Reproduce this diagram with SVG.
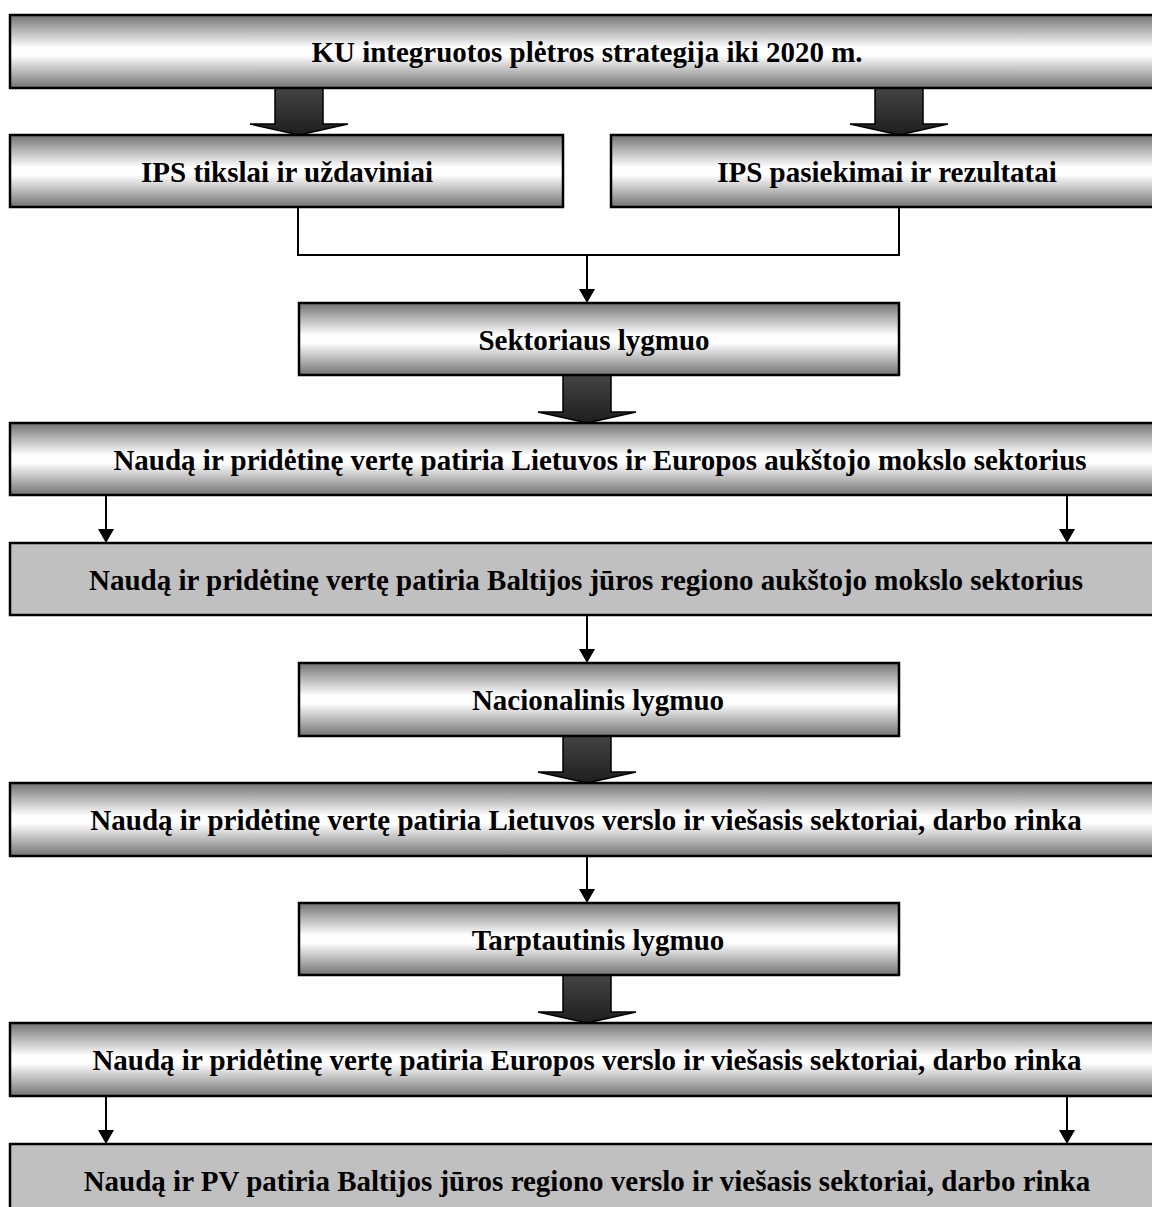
<svg xmlns="http://www.w3.org/2000/svg" width="1152" height="1207" viewBox="0 0 1152 1207">
  <defs>
    <linearGradient id="chrome" x1="0" y1="0" x2="0" y2="1">
      <stop offset="0" stop-color="#737373"/>
      <stop offset="0.45" stop-color="#fff"/>
      <stop offset="0.55" stop-color="#fff"/>
      <stop offset="1" stop-color="#737373"/>
    </linearGradient>
    <linearGradient id="dark" x1="0" y1="0" x2="0" y2="1">
      <stop offset="0" stop-color="#444"/>
      <stop offset="1" stop-color="#1e1e1e"/>
    </linearGradient>
  </defs>
  <style>
    .box { fill: url(#chrome); stroke: #000; stroke-width: 2.5; }
    .flat { fill: #c0c0c0; stroke: #000; stroke-width: 2.5; }
    .lbl { font-family: "Liberation Serif", "Times New Roman", serif; font-weight: bold; font-size: 29px; text-anchor: middle; fill: #000; }
    .big { fill: url(#dark); stroke: #000; stroke-width: 1.5; }
    .link { fill: none; stroke: #000; stroke-width: 2; }
    .head { fill: #000; }
  </style>
  <rect width="1152" height="1207" fill="#fff"/>

  <!-- thick block arrows -->
  <g id="block-arrows">
    <path class="big" d="M275,88 H323 V124 H348 L299,135 L250,124 H275 Z"/>
    <path class="big" d="M875,88 H923 V124 H948 L899,135 L850,124 H875 Z"/>
    <path class="big" d="M563,375 H611 V412 H636 L587,423 L538,412 H563 Z"/>
    <path class="big" d="M563,736 H611 V772 H636 L587,783 L538,772 H563 Z"/>
    <path class="big" d="M563,975 H611 V1012 H636 L587,1023 L538,1012 H563 Z"/>
  </g>

  <!-- thin connectors with solid heads -->
  <g id="connectors">
    <path class="link" d="M298,207 V255 H899 V207"/>
    <path class="link" d="M587,255 V289"/>
    <path class="head" d="M579,289 H595 L587,303 Z"/>
    <path class="link" d="M106,495 V529"/>
    <path class="head" d="M98,529 H114 L106,543 Z"/>
    <path class="link" d="M1067,495 V529"/>
    <path class="head" d="M1059,529 H1075 L1067,543 Z"/>
    <path class="link" d="M587,615 V649"/>
    <path class="head" d="M579,649 H595 L587,663 Z"/>
    <path class="link" d="M587,856 V889"/>
    <path class="head" d="M579,889 H595 L587,903 Z"/>
    <path class="link" d="M106,1096 V1130"/>
    <path class="head" d="M98,1130 H114 L106,1144 Z"/>
    <path class="link" d="M1067,1096 V1130"/>
    <path class="head" d="M1059,1130 H1075 L1067,1144 Z"/>
  </g>

  <g id="n-strategy">
    <rect class="box" x="10" y="15" width="1154" height="73"/>
    <text class="lbl" x="587" y="62">KU integruotos plėtros strategija iki 2020 m.</text>
  </g>
  <g id="n-goals">
    <rect class="box" x="10" y="135" width="553" height="72"/>
    <text class="lbl" x="287" y="182">IPS tikslai ir uždaviniai</text>
  </g>
  <g id="n-results">
    <rect class="box" x="611" y="135" width="553" height="72"/>
    <text class="lbl" x="887" y="182">IPS pasiekimai ir rezultatai</text>
  </g>
  <g id="n-sector">
    <rect class="box" x="299" y="303" width="600" height="72"/>
    <text class="lbl" x="594" y="350">Sektoriaus lygmuo</text>
  </g>
  <g id="n-lt-eu-higher">
    <rect class="box" x="10" y="423" width="1154" height="72"/>
    <text class="lbl" x="600" y="470">Naudą ir pridėtinę vertę patiria Lietuvos ir Europos aukštojo mokslo sektorius</text>
  </g>
  <g id="n-baltic-higher">
    <rect class="flat" x="10" y="543" width="1154" height="72"/>
    <text class="lbl" x="586" y="590">Naudą ir pridėtinę vertę patiria Baltijos jūros regiono aukštojo mokslo sektorius</text>
  </g>
  <g id="n-national">
    <rect class="box" x="299" y="663" width="600" height="73"/>
    <text class="lbl" x="598" y="710">Nacionalinis lygmuo</text>
  </g>
  <g id="n-lt-business">
    <rect class="box" x="10" y="783" width="1154" height="73"/>
    <text class="lbl" x="586" y="830">Naudą ir pridėtinę vertę patiria Lietuvos verslo ir viešasis sektoriai, darbo rinka</text>
  </g>
  <g id="n-international">
    <rect class="box" x="299" y="903" width="600" height="72"/>
    <text class="lbl" x="598" y="950">Tarptautinis lygmuo</text>
  </g>
  <g id="n-eu-business">
    <rect class="box" x="10" y="1023" width="1154" height="73"/>
    <text class="lbl" x="587" y="1070">Naudą ir pridėtinę vertę patiria Europos verslo ir viešasis sektoriai, darbo rinka</text>
  </g>
  <g id="n-baltic-business">
    <rect class="flat" x="10" y="1144" width="1154" height="73"/>
    <text class="lbl" x="587" y="1191">Naudą ir PV patiria Baltijos jūros regiono verslo ir viešasis sektoriai, darbo rinka</text>
  </g>
</svg>
